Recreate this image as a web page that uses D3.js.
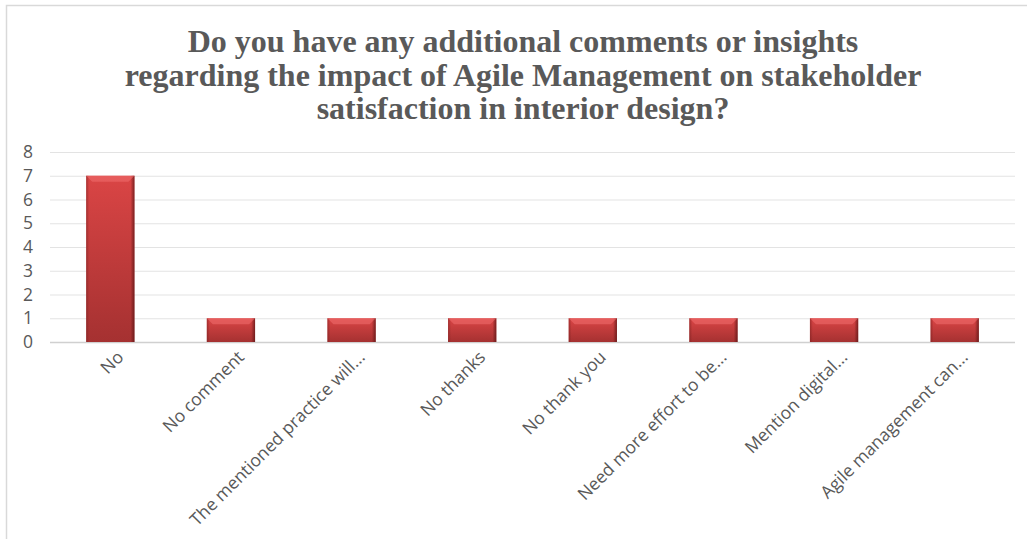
<!DOCTYPE html>
<html>
<head>
<meta charset="utf-8">
<script src="https://cdn.jsdelivr.net/npm/d3@7"></script>
<style>
  body { margin: 0; background: #fff; }
  svg { display: block; }
</style>
</head>
<body>
<svg id="chart"></svg>
<script>
var width = 1027,
    height = 539;

var categories = ["No", "No comment", "The mentioned practice will...", "No thanks",
                  "No thank you", "Need more effort to be...", "Mention digital...",
                  "Agile management can..."];
var counts = [7, 1, 1, 1, 1, 1, 1, 1];
var yTicks = [0, 1, 2, 3, 4, 5, 6, 7, 8];
var titleLines = ["Do you have any additional comments or insights",
                  "regarding the impact of Agile Management on stakeholder",
                  "satisfaction in interior design?"];

var margin = {left: 50, right: 12, top: 152, bottom: 197};

var svg = d3.select('#chart')
            .attr('width', width)
            .attr('height', height);

// bar gradient
var defs = svg.append('defs');
var grad = defs.append('linearGradient')
    .attr('id', 'barGrad')
    .attr('x1', 0).attr('y1', 0).attr('x2', 0).attr('y2', 1);
grad.append('stop').attr('offset', '0%').attr('stop-color', '#da4545');
grad.append('stop').attr('offset', '100%').attr('stop-color', '#a53131');

var sideGrad = defs.append('linearGradient')
    .attr('id', 'sideGrad')
    .attr('x1', 0).attr('y1', 0).attr('x2', 1).attr('y2', 0);
sideGrad.append('stop').attr('offset', '0%').attr('stop-color', '#7a1f1f').attr('stop-opacity', 0.55);
sideGrad.append('stop').attr('offset', '6%').attr('stop-color', '#7a1f1f').attr('stop-opacity', 0);
sideGrad.append('stop').attr('offset', '92%').attr('stop-color', '#5a1414').attr('stop-opacity', 0);
sideGrad.append('stop').attr('offset', '100%').attr('stop-color', '#5a1414').attr('stop-opacity', 0.75);

// chart frame (top and left visible)
svg.append('path')
   .attr('d', 'M6.5,539 L6.5,5.5 L1027,5.5')
   .attr('fill', 'none')
   .attr('stroke', '#d9d9d9')
   .attr('stroke-width', 1.5);

// title
svg.append('text')
   .attr('text-anchor', 'middle')
   .attr('font-family', '"Liberation Serif", "Times New Roman", serif')
   .attr('font-weight', 'bold')
   .attr('font-size', 32)
   .attr('fill', '#595959')
   .selectAll('tspan')
   .data(titleLines)
   .enter()
   .append('tspan')
     .attr('x', 523)
     .attr('y', (d, i) => 52 + i * 33.5)
     .text(d => d);

var x = d3.scaleBand()
          .domain(categories)
          .range([margin.left, width - margin.right])
          .paddingInner(0.6)
          .paddingOuter(0.3);

var y = d3.scaleLinear()
          .domain([0, 8])
          .range([height - margin.bottom, margin.top]);

// gridlines
svg.append('g')
   .selectAll('line')
   .data(yTicks)
   .enter()
   .append('line')
     .attr('x1', margin.left)
     .attr('x2', width - margin.right)
     .attr('y1', d => y(d) + 0.5)
     .attr('y2', d => y(d) + 0.5)
     .attr('stroke', d => d === 0 ? '#d0d0d0' : '#e3e3e3')
     .attr('stroke-width', d => d === 0 ? 1.5 : 1);

// y axis labels
var yAxis = d3.axisLeft(y).tickValues(yTicks).tickSize(0).tickPadding(0);
svg.append('g')
   .attr('transform', 'translate(33,0)')
   .call(yAxis)
   .call(g => g.select('.domain').remove())
   .call(g => g.selectAll('text')
        .attr('font-family', '"Open Sans", Lato, sans-serif')
        .attr('font-size', 17.5)
        .attr('fill', '#595959'));

// bars
var bars = svg.selectAll('.bar')
              .data(counts)
              .enter()
              .append('g')
              .attr('class', 'bar');

bars.append('rect')
    .attr('x', (d, i) => x(categories[i]))
    .attr('y', d => y(d))
    .attr('width', x.bandwidth())
    .attr('height', d => y(0) - y(d))
    .attr('fill', 'url(#barGrad)');

bars.append('rect')
    .attr('x', (d, i) => x(categories[i]))
    .attr('y', d => y(d))
    .attr('width', x.bandwidth())
    .attr('height', d => y(0) - y(d))
    .attr('fill', 'url(#sideGrad)');

// bevel on top
bars.append('path')
    .attr('d', (d, i) => {
      var x0 = x(categories[i]), x1 = x0 + x.bandwidth(), t = y(d);
      return 'M' + x0 + ',' + t + 'L' + x1 + ',' + t + 'L' + (x1 - 6) + ',' + (t + 6) +
             'L' + (x0 + 6) + ',' + (t + 6) + 'Z';
    })
    .attr('fill', '#f07070')
    .attr('opacity', 0.55);

// x labels
var xAxis = d3.axisBottom(x).tickSize(0).tickPadding(0);
svg.append('g')
   .attr('transform', 'translate(10,' + (y(0) + 12) + ')')
   .call(xAxis)
   .call(g => g.select('.domain').remove())
   .call(g => g.selectAll('text')
        .attr('font-family', '"Open Sans", Lato, sans-serif')
        .attr('font-size', 17.5)
        .attr('fill', '#595959')
        .attr('text-anchor', 'end')
        .attr('dy', '0.35em')
        .attr('transform', 'rotate(-45)'));
</script>
</body>
</html>
